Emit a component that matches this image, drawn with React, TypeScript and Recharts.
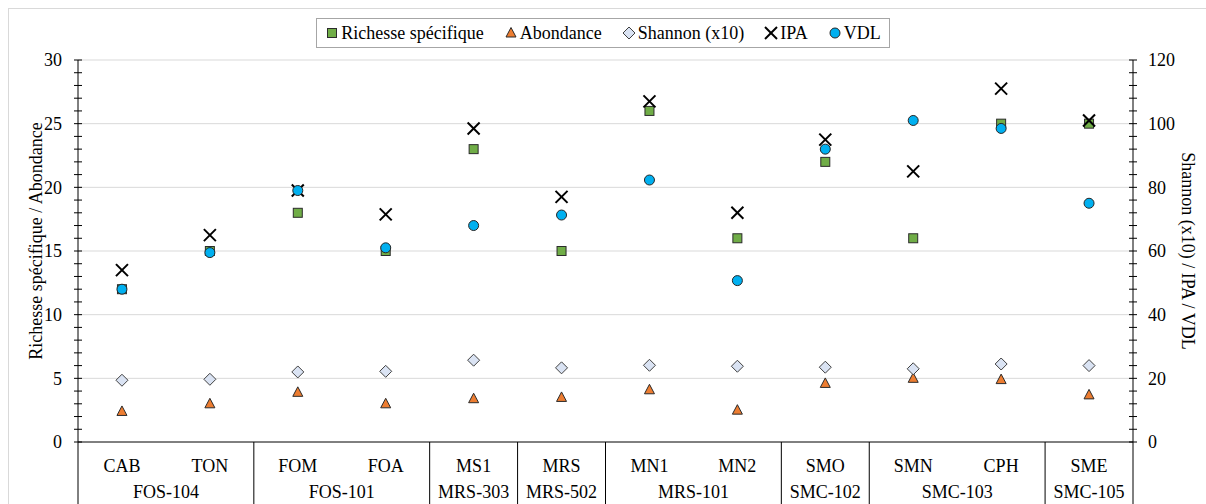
import React from 'react';
import { ScatterChart, Scatter, XAxis, YAxis, Legend, ReferenceLine, Label } from 'recharts';

const sites = ['CAB', 'TON', 'FOM', 'FOA', 'MS1', 'MRS', 'MN1', 'MN2', 'SMO', 'SMN', 'CPH', 'SME'];
const groups = ['FOS-104', 'FOS-101', 'MRS-303', 'MRS-502', 'MRS-101', 'SMC-102', 'SMC-103', 'SMC-105'];
const groupSizes = [2, 2, 1, 1, 2, 1, 2, 1];

// left axis
const richesse = [12, 15, 18, 15, 23, 15, 26, 16, 22, 16, 25, 25];
const abondance = [2.4, 3.0, 3.9, 3.0, 3.4, 3.5, 4.1, 2.5, 4.6, 5.0, 4.9, 3.7];
// right axis
const shannon = [19.4, 19.7, 22.0, 22.2, 25.7, 23.3, 24.1, 23.8, 23.5, 23.0, 24.5, 24.0];
const ipa = [54, 65, 79, 71.5, 98.5, 77, 107, 72, 95, 85, 111, 101];
const vdl = [48, 59.5, 79, 61, 68, 71.3, 82.3, 50.7, 92, 101, 98.5, 75];

const leftTicks = Array.from({ length: 31 }, (_, i) => i);
const rightTicks = Array.from({ length: 31 }, (_, i) => i * 4);
const gridValues = [5, 10, 15, 20, 25, 30];

const rows = sites.map((site, i) => ({
  i,
  site,
  richesse: richesse[i],
  abondance: abondance[i],
  shannon: shannon[i],
  ipa: ipa[i],
  vdl: vdl[i],
}));

// group centres and dividers, in category index units
const groupCenters: number[] = [];
const boundaries: number[] = [-0.5];
let pos = 0;
groupSizes.forEach((n) => {
  groupCenters.push(pos + (n - 1) / 2);
  pos += n;
  boundaries.push(pos - 0.5);
});

const FONT = '"Liberation Serif", "Times New Roman", serif';
const FS = 18;
const TICK_SIZE = 5;
const TICK_MARGIN = 2;

const Square = ({ cx, cy }: any) => (
  <rect x={cx - 4.5} y={cy - 4.5} width={9} height={9} fill="#70AD47" stroke="#2b2b2b" strokeWidth={1} />
);
const Triangle = ({ cx, cy }: any) => (
  <polygon points={`${cx},${cy - 5.5} ${cx + 5},${cy + 4} ${cx - 5},${cy + 4}`} fill="#ED7D31" stroke="#2b2b2b" strokeWidth={1} />
);
const Diamond = ({ cx, cy }: any) => (
  <polygon
    points={`${cx},${cy - 6} ${cx + 6},${cy} ${cx},${cy + 6} ${cx - 6},${cy}`}
    fill="#DAE3F3"
    stroke="#404040"
    strokeWidth={1}
  />
);
const Cross = ({ cx, cy }: any) => (
  <g stroke="#000" strokeWidth={2}>
    <line x1={cx - 6} y1={cy - 6} x2={cx + 6} y2={cy + 6} />
    <line x1={cx - 6} y1={cy + 6} x2={cx + 6} y2={cy - 6} />
  </g>
);
const Circle = ({ cx, cy }: any) => <circle cx={cx} cy={cy} r={5} fill="#00B0F0" stroke="#262626" strokeWidth={1} />;

const series = [
  { key: 'richesse', name: 'Richesse spécifique', axis: 'left', Shape: Square },
  { key: 'abondance', name: 'Abondance', axis: 'left', Shape: Triangle },
  { key: 'shannon', name: 'Shannon (x10)', axis: 'right', Shape: Diamond },
  { key: 'ipa', name: 'IPA', axis: 'right', Shape: Cross },
  { key: 'vdl', name: 'VDL', axis: 'right', Shape: Circle },
];

const LeftTick = (props: any) => {
  const { x, y, payload } = props;
  const ax = x + TICK_SIZE + TICK_MARGIN;
  return (
    <g>
      <line x1={ax - 4} x2={ax + 4} y1={y} y2={y} stroke="#000" />
      {payload.value % 5 === 0 && (
        <text x={ax - 16} y={y} dy="0.35em" textAnchor="end" fontSize={FS} fill="#000" fontFamily={FONT}>
          {payload.value}
        </text>
      )}
    </g>
  );
};

const RightTick = (props: any) => {
  const { x, y, payload } = props;
  const ax = x - TICK_SIZE - TICK_MARGIN;
  return (
    <g>
      <line x1={ax - 4} x2={ax + 4} y1={y} y2={y} stroke="#000" />
      {payload.value % 20 === 0 && (
        <text x={ax + 15} y={y} dy="0.35em" textAnchor="start" fontSize={FS} fill="#000" fontFamily={FONT}>
          {payload.value}
        </text>
      )}
    </g>
  );
};

const LeftTitle = ({ viewBox }: any) => {
  const x = viewBox.x + 18;
  const y = viewBox.y + viewBox.height / 2 - 10;
  return (
    <text x={x} y={y} transform={`rotate(-90 ${x} ${y})`} textAnchor="middle" dy="0.35em" fontSize={FS} fill="#000" fontFamily={FONT}>
      Richesse spécifique / Abondance
    </text>
  );
};

const RightTitle = ({ viewBox }: any) => {
  const x = viewBox.x + 55;
  const y = viewBox.y + viewBox.height / 2;
  return (
    <text x={x} y={y} transform={`rotate(90 ${x} ${y})`} textAnchor="middle" dy="0.35em" fontSize={FS} fill="#000" fontFamily={FONT}>
      Shannon (x10) / IPA / VDL
    </text>
  );
};

const Divider = (p: any) => {
  const bottom = Math.max(p.y1, p.y2);
  return <line x1={p.x1} x2={p.x1} y1={bottom} y2={bottom + 80} stroke="#000" strokeWidth={1} />;
};

const GroupLabel = ({ x1, y1, y2, name }: any) => {
  const bottom = Math.max(y1, y2);
  return (
    <text x={x1} y={bottom + 56} textAnchor="middle" fontSize={FS} fill="#000" fontFamily={FONT}>
      {name}
    </text>
  );
};

const LegendBox = () => (
  <div style={{ display: 'flex', justifyContent: 'center' }}>
    <div
      style={{
        display: 'flex',
        alignItems: 'center',
        gap: 20,
        height: 28,
        padding: '0 8px',
        border: '1px solid #a6a6a6',
        background: '#fff',
        fontFamily: FONT,
        fontSize: FS,
        color: '#000',
      }}
    >
      {series.map((s) => (
        <span key={s.key} style={{ display: 'flex', alignItems: 'center', gap: 2 }}>
          <svg width={14} height={14}>
            <s.Shape cx={7} cy={7} />
          </svg>
          {s.name}
        </span>
      ))}
    </div>
  </div>
);

export default function App() {
  return (
    <div style={{ position: 'absolute', left: 0, top: 0, width: 1206, height: 504, overflow: 'hidden', background: '#fff' }}>
      <div
        style={{
          position: 'absolute',
          left: 8,
          top: 8,
          width: 1300,
          height: 600,
          borderTop: '1px solid #d9d9d9',
          borderLeft: '1px solid #d9d9d9',
        }}
      />
      <div style={{ position: 'absolute', left: 0, top: 0 }}>
        <ScatterChart width={1206} height={504} margin={{ top: 30, right: 13, bottom: 0, left: 18 }} style={{ fontFamily: FONT }}>
          <Legend verticalAlign="top" content={LegendBox} wrapperStyle={{ top: 18, left: 0, width: 1206 }} />
          <XAxis
            xAxisId="a"
            type="number"
            dataKey="i"
            domain={[-0.5, 11.5]}
            allowDataOverflow
            ticks={sites.map((_, i) => i)}
            interval={0}
            tickFormatter={(v: number) => sites[v]}
            height={62}
            tickLine={false}
            tickSize={8}
            tickMargin={9}
            axisLine={{ stroke: '#000' }}
            tick={{ fill: '#000', fontSize: FS, fontFamily: FONT }}
          />
          <YAxis
            yAxisId="left"
            orientation="left"
            type="number"
            domain={[0, 30]}
            allowDataOverflow
            ticks={leftTicks}
            interval={0}
            width={60}
            tickLine={false}
            tickSize={TICK_SIZE}
            tickMargin={TICK_MARGIN}
            axisLine={{ stroke: '#000' }}
            tick={(p: any) => <LeftTick {...p} />}
          >
            <Label content={LeftTitle} />
          </YAxis>
          <YAxis
            yAxisId="right"
            orientation="right"
            type="number"
            domain={[0, 120]}
            allowDataOverflow
            ticks={rightTicks}
            interval={0}
            width={60}
            tickLine={false}
            tickSize={TICK_SIZE}
            tickMargin={TICK_MARGIN}
            axisLine={{ stroke: '#000' }}
            tick={(p: any) => <RightTick {...p} />}
          >
            <Label content={RightTitle} />
          </YAxis>
          {gridValues.map((v) => (
            <ReferenceLine key={`g${v}`} xAxisId="a" yAxisId="left" y={v} stroke="#d9d9d9" strokeWidth={1} />
          ))}
          {boundaries.map((b) => (
            <ReferenceLine key={`d${b}`} xAxisId="a" yAxisId="left" x={b} ifOverflow="visible" shape={Divider} />
          ))}
          {groups.map((g, k) => (
            <ReferenceLine
              key={`l${g}`}
              xAxisId="a"
              yAxisId="left"
              x={groupCenters[k]}
              ifOverflow="visible"
              shape={(p: any) => <GroupLabel {...p} name={g} />}
            />
          ))}
          {series.map((s) => (
            <Scatter
              key={s.key}
              name={s.name}
              data={rows}
              dataKey={s.key}
              xAxisId="a"
              yAxisId={s.axis}
              shape={(p: any) => <s.Shape cx={p.cx} cy={p.cy} />}
              isAnimationActive={false}
            />
          ))}
        </ScatterChart>
      </div>
    </div>
  );
}
